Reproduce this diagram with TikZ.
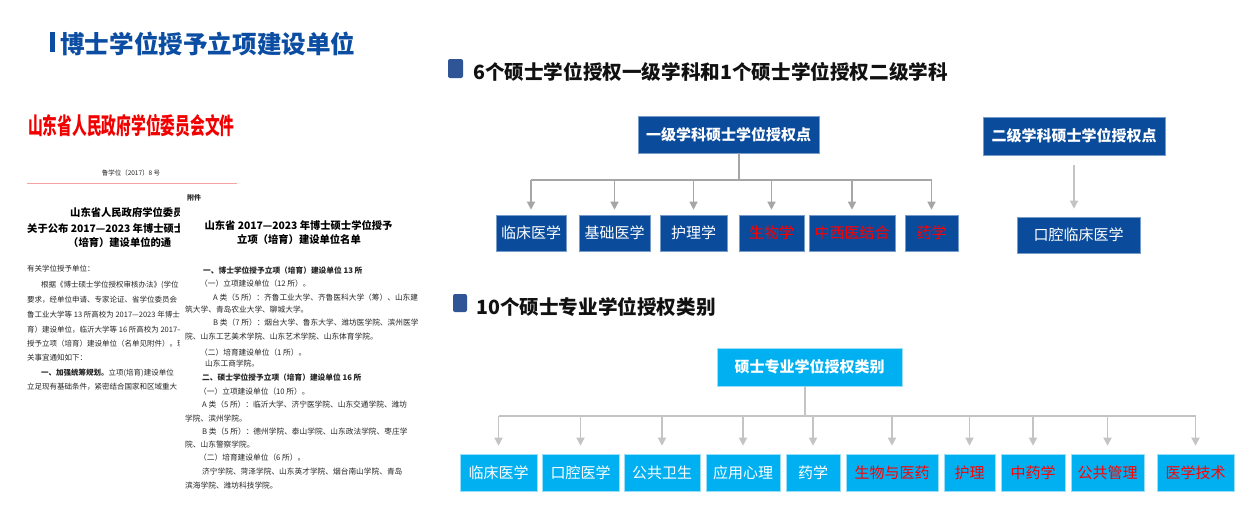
\documentclass[tikz,border=0pt]{standalone}
\usepackage{fontspec}
\setmainfont{Noto Sans CJK SC}
\usepackage{xcolor}
\usepackage{tikz}
\usetikzlibrary{arrows.meta}
\definecolor{titleblue}{HTML}{0B4DA2}
\definecolor{barblue}{HTML}{2F5597}
\definecolor{boxblue}{HTML}{0A4B9C}
\definecolor{boxcyan}{HTML}{00B0F0}
\definecolor{alert}{HTML}{FF0000}
\definecolor{wiregray}{HTML}{A6A6A6}
\definecolor{wirelight}{HTML}{C4C4C4}
\definecolor{docred}{HTML}{F20000}
\definecolor{docrule}{HTML}{F4A3A3}
\definecolor{doctext}{HTML}{262626}
\definecolor{ink}{HTML}{111111}
\newcommand{\fsz}[1]{\fontsize{#1}{#1}\selectfont}
\tikzset{
  title/.style={text=titleblue, font=\fsz{24.6}\bfseries, inner sep=0pt, anchor=west},
  sec/.style={text=ink, font=\fsz{19.6}\bfseries, inner sep=0pt, anchor=west},
  secbar/.style={fill=barblue, rounded corners=2pt},
  dbox/.style={fill=boxblue, draw=boxblue!55!white, line width=0.6pt, text=white, inner sep=0pt, font=\fsz{15}},
  cbox/.style={fill=boxcyan, draw=boxcyan!40!white, line width=0.6pt, text=white, inner sep=0pt, font=\fsz{15}},
  redtxt/.style={text=alert},
  wire/.style={draw=wiregray, line width=1.4pt},
  arr/.style={wire, -{Triangle[length=8pt,width=8pt]}, shorten >=5pt},
  wirelt/.style={draw=wirelight, line width=1.4pt},
  arrlt/.style={wirelt, -{Triangle[length=8pt,width=8pt]}, shorten >=8pt},
  doc/.style={text=doctext, font=\fsz{7.7}, inner sep=0pt, anchor=west},
  docb/.style={doc, font=\fsz{7.7}\bfseries},
  docs/.style={text=doctext, font=\fsz{7.5}, inner sep=0pt, anchor=west},
  dochd/.style={text=black, font=\fsz{10.3}\bfseries, inner sep=0pt}
}

\begin{document}
\begin{tikzpicture}[x=1pt,y=-1pt]
  \useasboundingbox[fill=white] (0,0) rectangle (1246,515);

  \fill[titleblue] (50,32) rectangle (55,52);
  \node[title] (mainT) at (60,43.5) {博士学位授予立项建设单位};

  \node[anchor=west, text=docred, font=\fsz{22}\bfseries, inner sep=0pt] (docHd) at (28,126)
    {\scalebox{0.67}[1.05]{山东省人民政府学位委员会文件}};
  \node[text=doctext, font=\fsz{6.5}] (docNo) at (131,173) {鲁学位〔2017〕8 号};
  \draw[docrule, line width=1pt] (27,183) -- (237,183);

  \begin{scope}
    \clip (20,186) rectangle (179,515);
    \node[dochd, anchor=west] (pA1) at (70,213) {山东省人民政府学位委员};
    \node[dochd, anchor=west] (pA2) at (27,229) {关于公布 2017—2023 年博士硕士学};
    \node[dochd, anchor=west] (pA3) at (68,243) {（培育）建设单位的通};
    \node[docs] at (27,269) {有关学位授予单位：};
    \node[docs] at (41,285) {根据《博士硕士学位授权审核办法》(学位};
    \node[docs] at (27,300) {要求，经单位申请、专家论证、省学位委员会};
    \node[docs] at (27,315) {鲁工业大学等 13 所高校为 2017—2023 年博士};
    \node[docs] at (27,330) {育）建设单位，临沂大学等 16 所高校为 2017—};
    \node[docs] at (27,344) {授予立项（培育）建设单位（名单见附件）。现};
    \node[docs] at (27,358) {关事宜通知如下：};
    \node[docs] at (41,373) {\bfseries 一、加强统筹规划。\mdseries 立项(培育)建设单位};
    \node[docs] at (27,387) {立足现有基础条件，紧密结合国家和区域重大};
  \end{scope}

  \node[docb, font=\fsz{7}\bfseries] (att) at (187,198) {附件};
  \node[dochd] (pB1) at (298.5,225) {山东省 2017—2023 年博士硕士学位授予};
  \node[dochd] (pB2) at (299,240) {立项（培育）建设单位名单};
  \node[docb] at (203,271) {一、博士学位授予立项（培育）建设单位 13 所};
  \node[doc] at (200,284) {（一）立项建设单位（12 所）。};
  \node[doc] at (213,298) {A 类（5 所）：齐鲁工业大学、齐鲁医科大学（筹）、山东建};
  \node[doc] at (185,310) {筑大学、青岛农业大学、聊城大学。};
  \node[doc] at (213,323) {B 类（7 所）：烟台大学、鲁东大学、潍坊医学院、滨州医学};
  \node[doc] at (185,337) {院、山东工艺美术学院、山东艺术学院、山东体育学院。};
  \node[doc] at (200,353) {（二）培育建设单位（1 所）。};
  \node[doc] at (205,364) {山东工商学院。};
  \node[docb] at (202,378) {二、硕士学位授予立项（培育）建设单位 16 所};
  \node[doc] at (199,392) {（一）立项建设单位（10 所）。};
  \node[doc] at (202,405) {A 类（5 所）：临沂大学、济宁医学院、山东交通学院、潍坊};
  \node[doc] at (185,419) {学院、滨州学院。};
  \node[doc] at (202,432) {B 类（5 所）：德州学院、泰山学院、山东政法学院、枣庄学};
  \node[doc] at (185,445) {院、山东警察学院。};
  \node[doc] at (199,458) {（二）培育建设单位（6 所）。};
  \node[doc] at (202,472) {济宁学院、菏泽学院、山东英才学院、烟台南山学院、青岛};
  \node[doc] at (185,486) {滨海学院、潍坊科技学院。};

  \fill[secbar] (448,59) rectangle (463,78);
  \node[sec] (secA) at (473,72) {6个硕士学位授权一级学科和1个硕士学位授权二级学科};

  \node[dbox, minimum width=181, minimum height=37, font=\fsz{15}\bfseries] (lvA) at (728.5,134.5) {一级学科硕士学位授权点};
  \node[dbox, minimum width=70, minimum height=36] (k1) at (531,233) {临床医学};
  \node[dbox, minimum width=71, minimum height=36] (k2) at (614.5,233) {基础医学};
  \node[dbox, minimum width=67, minimum height=36] (k3) at (693.5,233) {护理学};
  \node[dbox, redtxt, minimum width=65, minimum height=36] (k4) at (771.5,233) {生物学};
  \node[dbox, redtxt, minimum width=86, minimum height=36] (k5) at (852,233) {中西医结合};
  \node[dbox, redtxt, minimum width=53, minimum height=36] (k6) at (931.5,233) {药学};
  \coordinate (busA) at (739,180);
  \draw[wire] (lvA.south -| busA) -- (busA);
  \draw[wire] (k1.north |- busA) -- (k6.north |- busA);
  \draw[arr] (k1.north |- busA) -- (k1.north);
  \draw[arr] (k2.north |- busA) -- (k2.north);
  \draw[arr] (k3.north |- busA) -- (k3.north);
  \draw[arr] (k4.north |- busA) -- (k4.north);
  \draw[arr] (k5.north |- busA) -- (k5.north);
  \draw[arr] (k6.north |- busA) -- (k6.north);

  \node[dbox, minimum width=182, minimum height=38, font=\fsz{15}\bfseries] (lvB) at (1074,136) {二级学科硕士学位授权点};
  \node[dbox, minimum width=123, minimum height=36] (kq) at (1078.5,235) {口腔临床医学};
  \draw[arrlt, shorten <=10pt] (lvB.south) -- (lvB.south |- kq.north);

  \fill[secbar] (453,294) rectangle (467,312);
  \node[sec] (secB) at (476,307) {10个硕士专业学位授权类别};

  \node[cbox, minimum width=185, minimum height=38, font=\fsz{15}\bfseries] (pro) at (809.5,367) {硕士专业学位授权类别};
  \node[cbox, minimum width=77, minimum height=37] (m1) at (498.5,472.5) {临床医学};
  \node[cbox, minimum width=77, minimum height=37] (m2) at (580.5,472.5) {口腔医学};
  \node[cbox, minimum width=76, minimum height=37] (m3) at (662,472.5) {公共卫生};
  \node[cbox, minimum width=74, minimum height=37] (m4) at (743,472.5) {应用心理};
  \node[cbox, minimum width=54, minimum height=37] (m5) at (813,472.5) {药学};
  \node[cbox, redtxt, minimum width=92, minimum height=37] (m6) at (892,472.5) {生物与医药};
  \node[cbox, redtxt, minimum width=51, minimum height=37] (m7) at (969.5,472.5) {护理};
  \node[cbox, redtxt, minimum width=64, minimum height=37] (m8) at (1033,472.5) {中药学};
  \node[cbox, redtxt, minimum width=73, minimum height=37] (m9) at (1107.5,472.5) {公共管理};
  \node[cbox, redtxt, minimum width=77, minimum height=37] (m10) at (1195.5,472.5) {医学技术};
  \coordinate (busB) at (805,416);
  \draw[wirelt] (pro.south -| busB) -- (busB);
  \draw[wirelt] (m1.north |- busB) -- (m10.north |- busB);
  \draw[arrlt] (m1.north |- busB) -- (m1.north);
  \draw[arrlt] (m2.north |- busB) -- (m2.north);
  \draw[arrlt] (m3.north |- busB) -- (m3.north);
  \draw[arrlt] (m4.north |- busB) -- (m4.north);
  \draw[arrlt] (m5.north |- busB) -- (m5.north);
  \draw[arrlt] (m6.north |- busB) -- (m6.north);
  \draw[arrlt] (m7.north |- busB) -- (m7.north);
  \draw[arrlt] (m8.north |- busB) -- (m8.north);
  \draw[arrlt] (m9.north |- busB) -- (m9.north);
  \draw[arrlt] (m10.north |- busB) -- (m10.north);
\end{tikzpicture}
\end{document}
